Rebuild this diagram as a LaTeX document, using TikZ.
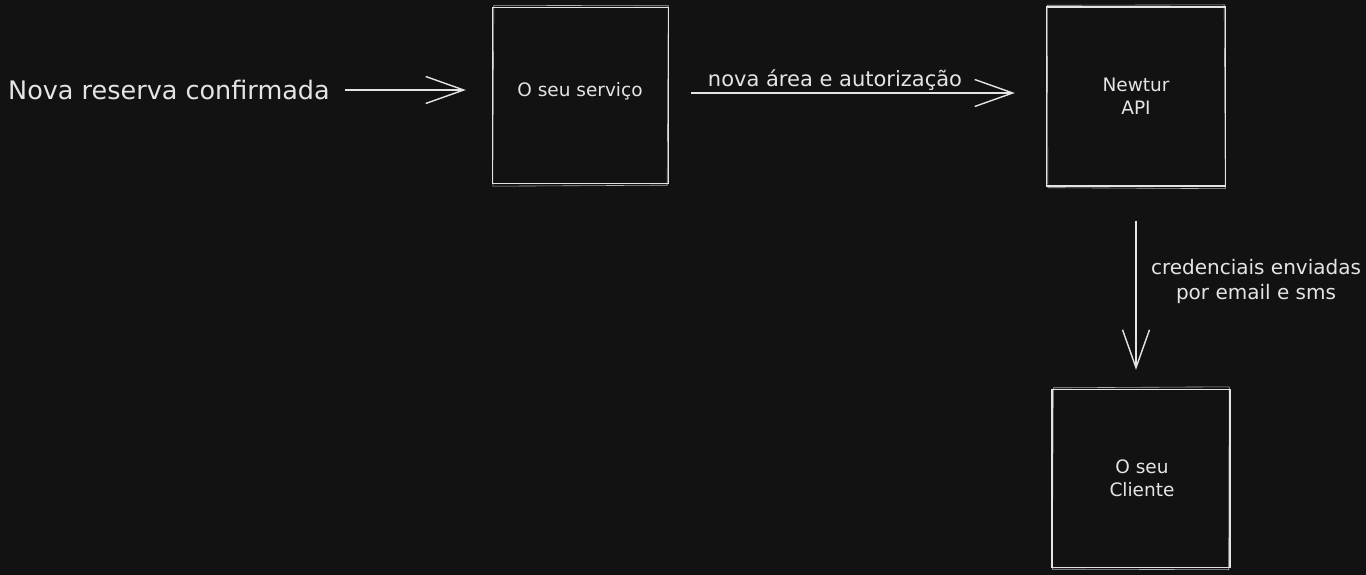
\documentclass[tikz,border=0pt]{standalone}
\usepackage{fontspec}
\setmainfont{DejaVu Sans}
\usetikzlibrary{arrows.meta}
\definecolor{bg}{HTML}{121212}
\definecolor{ink}{HTML}{E4E4E4}
\begin{document}
\begin{tikzpicture}[x=1pt,y=-1pt,
  box/.style={draw=ink, line width=1.4pt, minimum width=#1, minimum height=#1, inner sep=0pt},
  txt/.style={text=ink, font=\fontsize{18.5}{23}\selectfont, align=center, inner sep=0pt},
  lbl/.style={text=ink, font=\fontsize{20}{25}\selectfont, align=center, inner sep=0pt},
  conn/.style={draw=ink, line width=1.4pt, -{Straight Barb[length=38pt, width=27pt, line width=1.4pt]}},
  second/.style={draw=ink, line width=0.6pt, opacity=0.75}
]
\fill[bg] (0,0) rectangle (1366,575);
\useasboundingbox (0,0) rectangle (1366,575);

% boxes
\node[box=176] (b1) at (580.5,95.5) {};
\node[box=179] (b2) at (1136,96.5) {};
\node[box=178] (b3) at (1141,478.5) {};

% second strokes (sketch look)
\draw[second] ([shift={(2,-1.5)}]b1.north west) -- ([shift={(-1,-1)}]b1.north east) -- ([shift={(-2,1)}]b1.south east) -- ([shift={(1,2)}]b1.south west) -- cycle;
\draw[second] ([shift={(1.5,-1)}]b2.north west) -- ([shift={(-2,-1.5)}]b2.north east) -- ([shift={(-1,2)}]b2.south east) -- ([shift={(2,1)}]b2.south west) -- cycle;
\draw[second] ([shift={(2,-1)}]b3.north west) -- ([shift={(-1.5,-2)}]b3.north east) -- ([shift={(-2,1.5)}]b3.south east) -- ([shift={(1,1)}]b3.south west) -- cycle;

% box texts
\node[txt] (t1) at (580,91) {O seu serviço};
\node[txt] (t2) at (1136,96.5) {Newtur\\API};
\node[txt] (t3) at (1142,478.5) {O seu\\Cliente};

% start label
\node[text=ink, font=\fontsize{25.5}{30}\selectfont, inner sep=0pt, anchor=west] (start) at (8,90) {Nova reserva confirmada};

% connectors
\draw[conn, shorten <=15pt, shorten >=26pt] (start.east) -- (start.east -| b1.west);
\draw[conn, shorten <=22pt, shorten >=31pt] ([yshift=2.5pt]b1.east) -- ([yshift=3.5pt]b2.west);
\draw[conn, shorten <=34pt, shorten >=19pt] (b2.south) -- (b2.south |- b3.north);

% connector labels
\node[lbl, font=\fontsize{21}{25}\selectfont] (l2) at (835,80) {nova área e autorização};
\node[lbl] (l3) at (1256,281) {credenciais enviadas\\por email e sms};
\end{tikzpicture}
\end{document}
